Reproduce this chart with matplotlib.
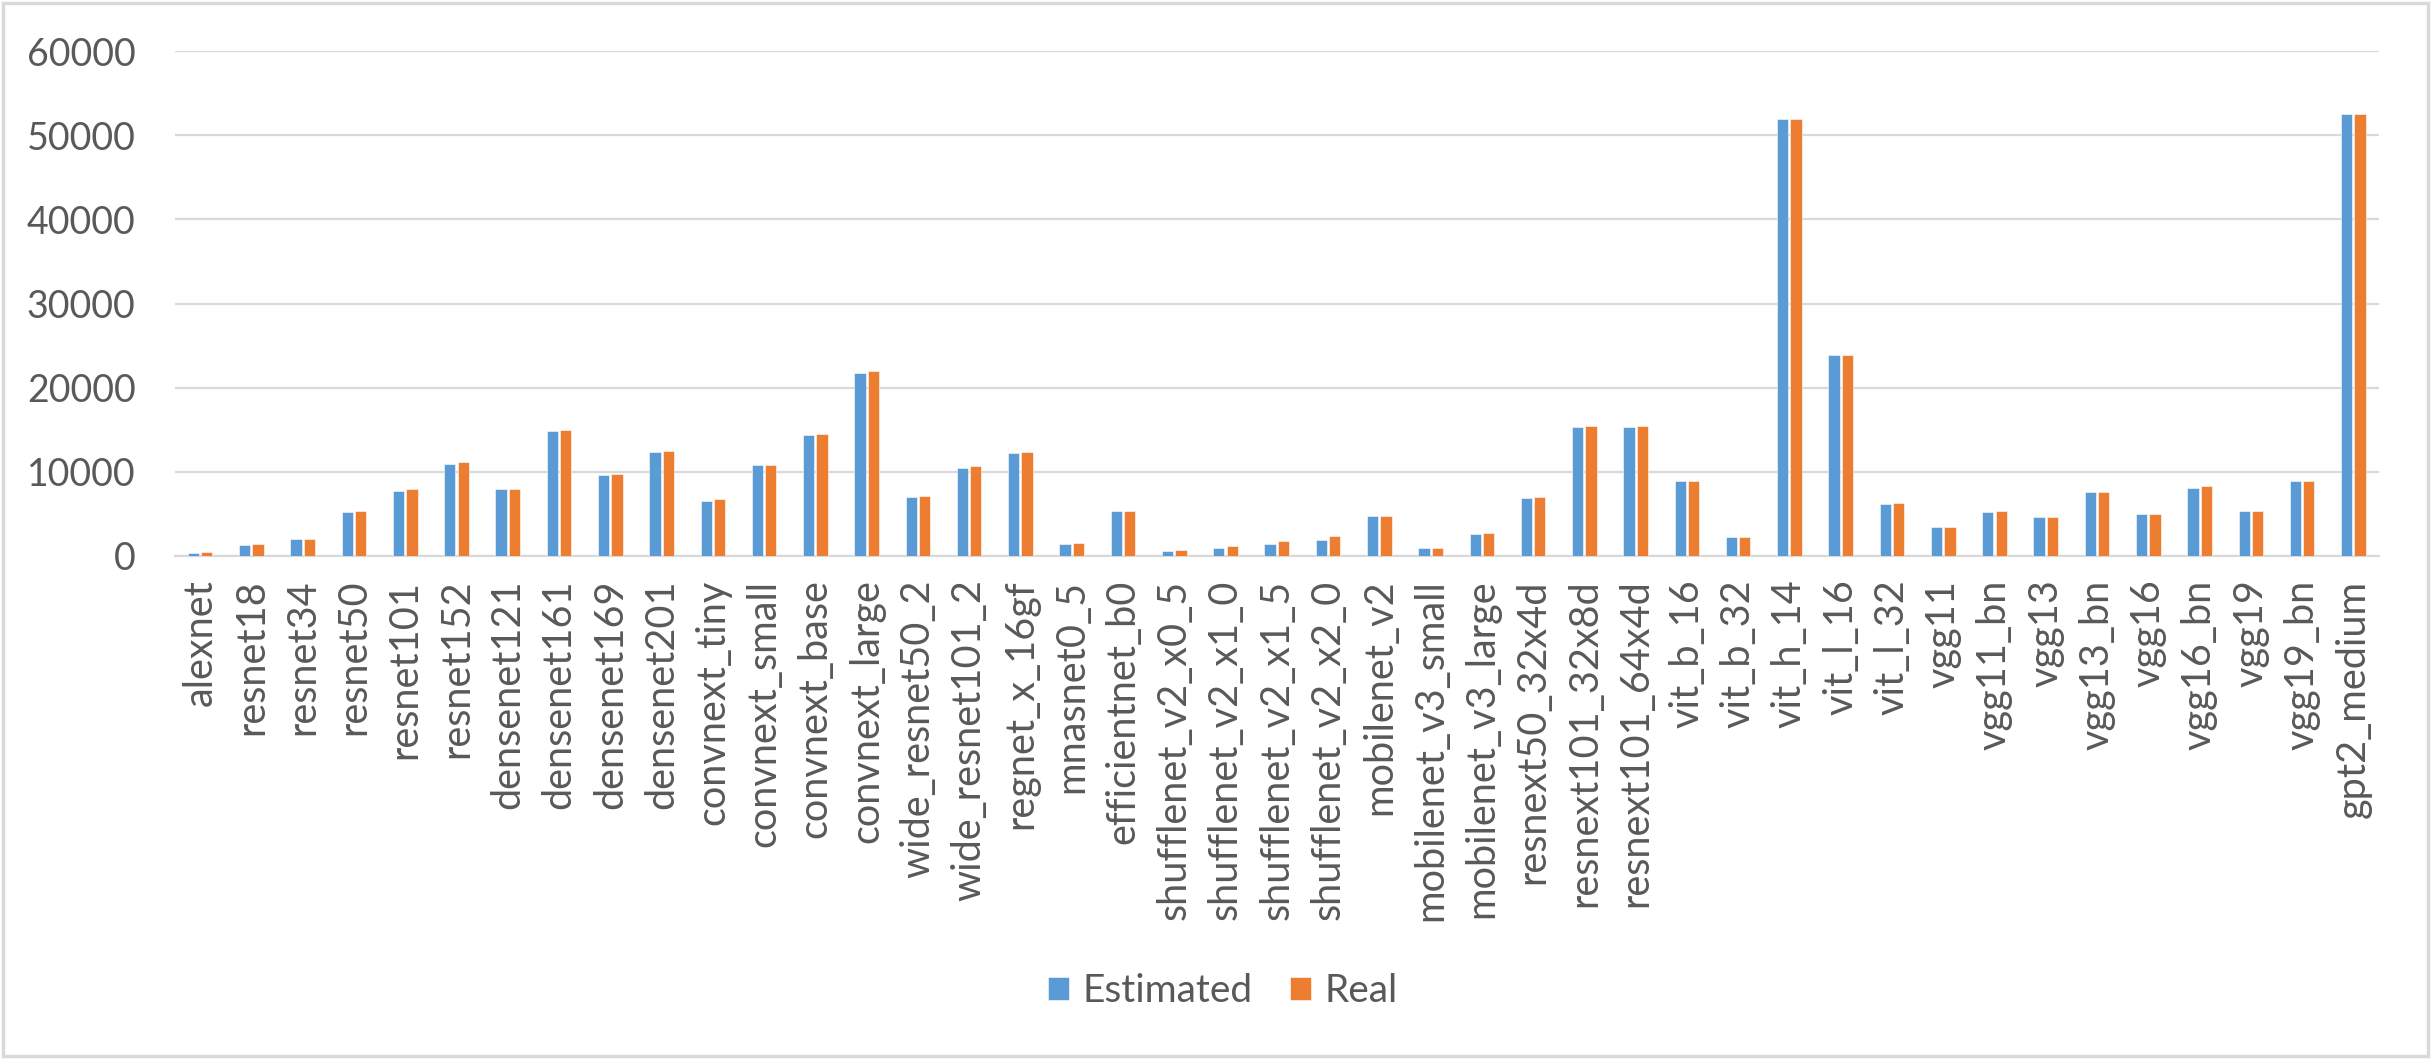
import numpy as np
import matplotlib
matplotlib.use("Agg")
import matplotlib.pyplot as plt
from matplotlib.patches import Rectangle

models = ["alexnet", "resnet18", "resnet34", "resnet50", "resnet101", "resnet152",
          "densenet121", "densenet161", "densenet169", "densenet201",
          "convnext_tiny", "convnext_small", "convnext_base", "convnext_large",
          "wide_resnet50_2", "wide_resnet101_2", "regnet_x_16gf", "mnasnet0_5",
          "efficientnet_b0", "shufflenet_v2_x0_5", "shufflenet_v2_x1_0",
          "shufflenet_v2_x1_5", "shufflenet_v2_x2_0", "mobilenet_v2",
          "mobilenet_v3_small", "mobilenet_v3_large", "resnext50_32x4d",
          "resnext101_32x8d", "resnext101_64x4d", "vit_b_16", "vit_b_32",
          "vit_h_14", "vit_l_16", "vit_l_32", "vgg11", "vgg11_bn", "vgg13",
          "vgg13_bn", "vgg16", "vgg16_bn", "vgg19", "vgg19_bn", "gpt2_medium"]

estimated = [350, 1320, 1980, 5190, 7780, 10900, 7910, 14810, 9580, 12310,
             6590, 10770, 14330, 21800, 6950, 10510, 12220, 1410, 5320, 570,
             970, 1410, 1890, 4750, 970, 2590, 6860, 15300, 15300, 8920,
             2240, 51910, 23870, 6150, 3430, 5190, 4620, 7560, 4970, 8130,
             5360, 8920, 52480]

real = [480, 1400, 1980, 5320, 7910, 11120, 7910, 14950, 9710, 12440,
        6730, 10770, 14510, 21980, 7080, 10640, 12350, 1540, 5320, 700,
        1190, 1760, 2370, 4750, 970, 2730, 6950, 15430, 15430, 8920,
        2240, 51910, 23870, 6290, 3430, 5360, 4620, 7560, 4970, 8260,
        5360, 8920, 52480]

yticks = [0, 10000, 20000, 30000, 40000, 50000, 60000]

BLUE = "#5B9BD5"
ORANGE = "#ED7D31"
GRID = "#D9D9D9"
TEXT = "#595959"
FONT = ["Lato", "DejaVu Sans"]

fig = plt.figure(figsize=(24.31, 10.59), dpi=100)
ax = fig.add_axes([0.0718, 0.475, 0.9068, 0.4768])

x = np.arange(len(models))
w = 0.22
ax.bar(x - 0.13, estimated, w, color=BLUE, edgecolor="white", linewidth=0.4,
       label="Estimated", zorder=3)
ax.bar(x + 0.13, real, w, color=ORANGE, edgecolor="white", linewidth=0.4,
       label="Real", zorder=3)

ax.set_xlim(-0.5, len(models) - 0.5)
ax.set_ylim(0, 60000)
ax.set_yticks(yticks)
ax.set_yticklabels([str(v) for v in yticks], family=FONT, fontsize=27, color=TEXT)
ax.yaxis.grid(True, color=GRID, linewidth=1.6, zorder=0)
ax.set_axisbelow(True)

ax.set_xticks(x)
ax.set_xticklabels(models, rotation=90, family=FONT, fontsize=28.5,
                   color=TEXT, va="top", ha="center")
ax.tick_params(axis="both", length=0)
ax.tick_params(axis="x", pad=17)
ax.tick_params(axis="y", pad=28)

for s in ["top", "right", "left"]:
    ax.spines[s].set_visible(False)
ax.spines["bottom"].set_color(GRID)
ax.spines["bottom"].set_linewidth(1.6)

fig.legend(loc="center", bbox_to_anchor=(0.503, 0.064), ncol=2, frameon=False,
           prop={"family": FONT, "size": 28}, labelcolor=TEXT,
           handlelength=0.55, handleheight=0.55, handletextpad=0.34,
           columnspacing=0.95)

fig.patches.append(Rectangle((0.0012, 0.0025), 0.9976, 0.995, transform=fig.transFigure,
                             fill=False, edgecolor=GRID, linewidth=2.5))

fig.savefig("out.png", dpi=100, facecolor="white")
